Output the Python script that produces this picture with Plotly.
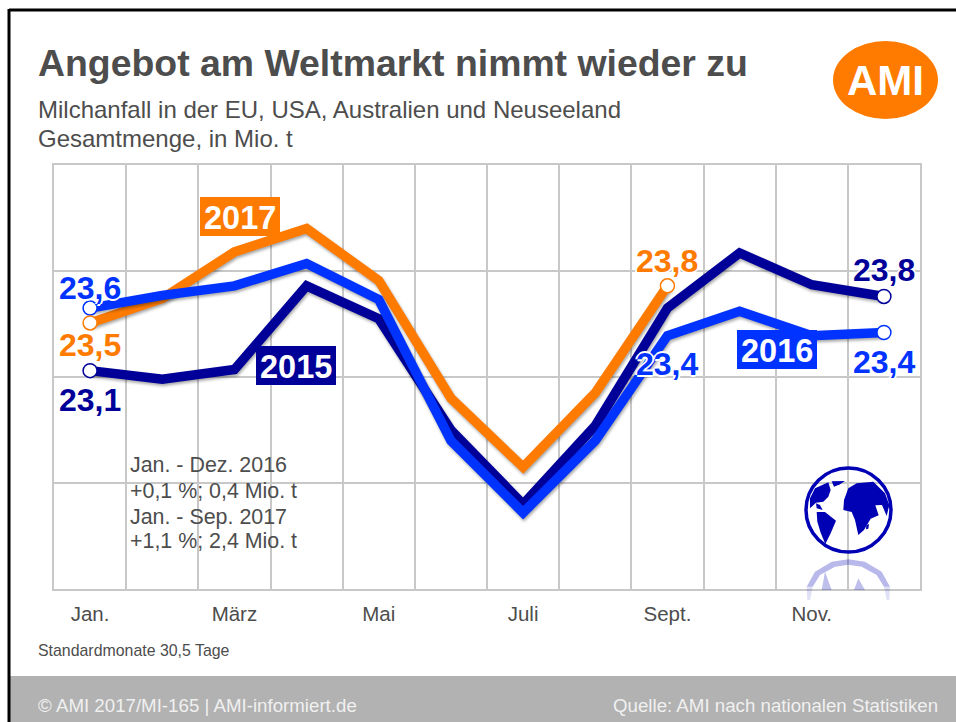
import plotly.graph_objects as go

W, H = 956, 722
L, R, T, B = 54, 920, 165, 589

months = ["Jan.", "Feb.", "März", "Apr.", "Mai", "Juni", "Juli", "Aug.", "Sept.", "Okt.", "Nov.", "Dez."]
shown = ["Jan.", "", "März", "", "Mai", "", "Juli", "", "Sept.", "", "Nov.", ""]
v2015 = [23.06, 22.98, 23.07, 23.86, 23.55, 22.5, 21.8, 22.54, 23.65, 24.17, 23.87, 23.76]
v2016 = [23.65, 23.77, 23.86, 24.07, 23.73, 22.4, 21.72, 22.4, 23.39, 23.62, 23.39, 23.42]
v2017 = [23.51, 23.74, 24.18, 24.4, 23.91, 22.8, 22.15, 22.85, 23.86]

NAVY, BLUE, ORANGE = "#000099", "#0033ff", "#ff7b00"
GREY = "#4d4d4d"
GLOBE = "#0000b4"
FONT = "Liberation Sans"


def px(x):
    return (x - L) / (R - L)


def py(y):
    return (B - y) / (B - T)


fig = go.Figure()
for name, vals, col in [("2017", v2017, ORANGE), ("2015", v2015, NAVY), ("2016", v2016, BLUE)]:
    fig.add_trace(go.Scatter(x=months[:len(vals)], y=vals, mode="lines", name=name,
                             line=dict(color=col, width=9.5, shape="linear"),
                             showlegend=False, hoverinfo="skip"))
for vals, col in [(v2015, NAVY), (v2016, BLUE), (v2017, ORANGE)]:
    idx = [0, len(vals) - 1]
    fig.add_trace(go.Scatter(x=[months[i] for i in idx], y=[vals[i] for i in idx], mode="markers",
                             marker=dict(color="white", size=14, line=dict(color=col, width=1.5)),
                             showlegend=False, hoverinfo="skip"))

halo = "-2px 0 0 #fff,2px 0 0 #fff,0 -2px 0 #fff,0 2px 0 #fff"
labels = [
    ("Jan.", v2016[0], "23,6", BLUE, -20),
    ("Jan.", v2017[0], "23,5", ORANGE, 22),
    ("Jan.", v2015[0], "23,1", NAVY, 29),
    ("Sept.", v2017[8], "23,8", ORANGE, -25),
    ("Sept.", v2016[8], "23,4", BLUE, 28),
    ("Dez.", v2015[11], "23,8", NAVY, -26),
    ("Dez.", v2016[11], "23,4", BLUE, 30),
]
for x, y, t, c, ay in labels:
    fig.add_annotation(x=x, y=y, text=f"<b>{t}</b>", showarrow=False, yshift=-ay,
                       font=dict(family=FONT, size=32, color=c, shadow=halo))


def page_text(x, y, text, size, color=GREY, anchor="left", bold=False):
    fig.add_annotation(xref="paper", yref="paper", x=px(x), y=py(y), text=f"<b>{text}</b>" if bold else text,
                       showarrow=False, xanchor=anchor, yanchor="middle",
                       font=dict(family=FONT, size=size, color=color), borderpad=0)


def tag(x0, x1, y0, y1, text, col):
    fig.add_shape(type="rect", xref="paper", yref="paper", x0=px(x0), x1=px(x1), y0=py(y0), y1=py(y1),
                  fillcolor=col, line_width=0, layer="above")
    page_text((x0 + x1) / 2, (y0 + y1) / 2 + 1, text, 32.5, "white", "center", True)


tag(200, 280, 197, 236, "2017", ORANGE)
tag(256, 336, 346, 385, "2015", NAVY)
tag(737, 817, 330, 369, "2016", BLUE)

page_text(37, 63, "Angebot am Weltmarkt nimmt wieder zu", 37.4, GREY, bold=True)
page_text(37, 109, "Milchanfall in der EU, USA, Australien und Neuseeland", 24)
page_text(37, 138, "Gesamtmenge, in Mio. t", 24)
for yy, t in [(465, "Jan. - Dez. 2016"), (491, "+0,1 %; 0,4 Mio. t"), (517, "Jan. - Sep. 2017"), (541, "+1,1 %; 2,4 Mio. t")]:
    page_text(129, yy, t, 21.4)
page_text(37, 650, "Standardmonate 30,5 Tage", 15.9)

# page furniture
fig.add_shape(type="rect", xref="paper", yref="paper", x0=px(10), x1=px(956), y0=py(676), y1=py(722),
              fillcolor="#b2b2b2", line_width=0, layer="below")
fig.add_shape(type="line", xref="paper", yref="paper", x0=px(9), x1=px(956), y0=py(10), y1=py(10),
              line=dict(color="black", width=3))
fig.add_shape(type="line", xref="paper", yref="paper", x0=px(9), x1=px(9), y0=py(9), y1=py(722),
              line=dict(color="black", width=3))
page_text(37, 705, "© AMI 2017/MI-165 | AMI-informiert.de", 18.7, "#f0f0f0")
page_text(939, 705, "Quelle: AMI nach nationalen Statistiken", 18.7, "#f0f0f0", "right")

# logo
fig.add_shape(type="circle", xref="paper", yref="paper", x0=px(833), x1=px(938), y0=py(41), y1=py(119),
              fillcolor=ORANGE, line_width=0)
page_text(885, 80, "AMI", 42, "white", "center", True)


# globe decoration, outlines traced in the 3x crop starting at (760, 440)
def pth(points):
    return "M" + " L".join(f"{px(760 + x / 3):.5f},{py(440 + y / 3):.5f}" for x, y in points) + " Z"


fig.add_shape(type="circle", xref="paper", yref="paper", x0=px(806), x1=px(891), y0=py(468), y1=py(552),
              fillcolor="rgba(255,255,255,0)", line=dict(color=GLOBE, width=3.5))
continents = [
    [(150, 175), (165, 145), (205, 127), (212, 150), (205, 170), (190, 185), (168, 188), (150, 205)],
    [(215, 124), (255, 123), (240, 133), (222, 140)],
    [(168, 190), (180, 195), (188, 210), (170, 205)],
    [(170, 216), (195, 216), (228, 242), (212, 280), (196, 312), (182, 278), (172, 245)],
    [(265, 145), (290, 130), (340, 125), (375, 160), (388, 195), (380, 228), (366, 195), (346, 196), (356, 226),
     (332, 236), (312, 270), (295, 285), (285, 240), (275, 216), (250, 210), (252, 180)],
    [(319, 256), (327, 252), (325, 266), (318, 268)],
]
for c in continents:
    fig.add_shape(type="path", xref="paper", yref="paper", path=pth(c), fillcolor=GLOBE, line_width=0)
for arc, alpha in [
    ([(140, 440), (165, 395), (215, 365), (265, 358), (315, 365), (365, 395), (390, 440),
      (372, 440), (350, 405), (305, 380), (265, 374), (225, 380), (180, 405), (158, 440)], 0.28),
    ([(140, 440), (158, 440), (150, 480), (142, 480)], 0.12),
    ([(390, 440), (372, 440), (380, 480), (388, 480)], 0.12),
    ([(195, 395), (215, 450), (185, 450)], 0.25),
    ([(295, 415), (315, 450), (282, 450)], 0.25),
]:
    fig.add_shape(type="path", xref="paper", yref="paper", path=pth(arc),
                  fillcolor=f"rgba(0,0,180,{alpha})", line_width=0)

fig.update_layout(
    width=W, height=H, autosize=False, paper_bgcolor="white", plot_bgcolor="white",
    margin=dict(l=L, r=W - R, t=T, b=H - B), showlegend=False,
    xaxis=dict(type="category", categoryorder="array", categoryarray=months, tickmode="array",
               tickvals=months, ticktext=shown, tickson="boundaries", range=[-0.5, 11.5],
               showgrid=True, gridcolor="#c8c8c8", gridwidth=2, ticks="", showline=True, mirror=True,
               linecolor="#c8c8c8", linewidth=2, zeroline=False,
               tickfont=dict(family=FONT, size=20.5, color=GREY), ticklabelstandoff=5, fixedrange=True),
    yaxis=dict(range=[21, 25], tickvals=[21, 22, 23, 24, 25], showticklabels=False, showgrid=True,
               gridcolor="#c8c8c8", gridwidth=2, ticks="", zeroline=False, showline=True, mirror=True,
               linecolor="#c8c8c8", linewidth=2, fixedrange=True),
)
css = ".scatterlayer .js-line{filter:drop-shadow(1px 2px 1.5px rgba(0,0,0,.35));}"
fig.write_html("out.html", config={"displayModeBar": False},
               post_script=("document.body.style.margin='0';document.body.style.overflow='hidden';"
                            f"var s=document.createElement('style');s.textContent='{css}';document.head.appendChild(s);"))
